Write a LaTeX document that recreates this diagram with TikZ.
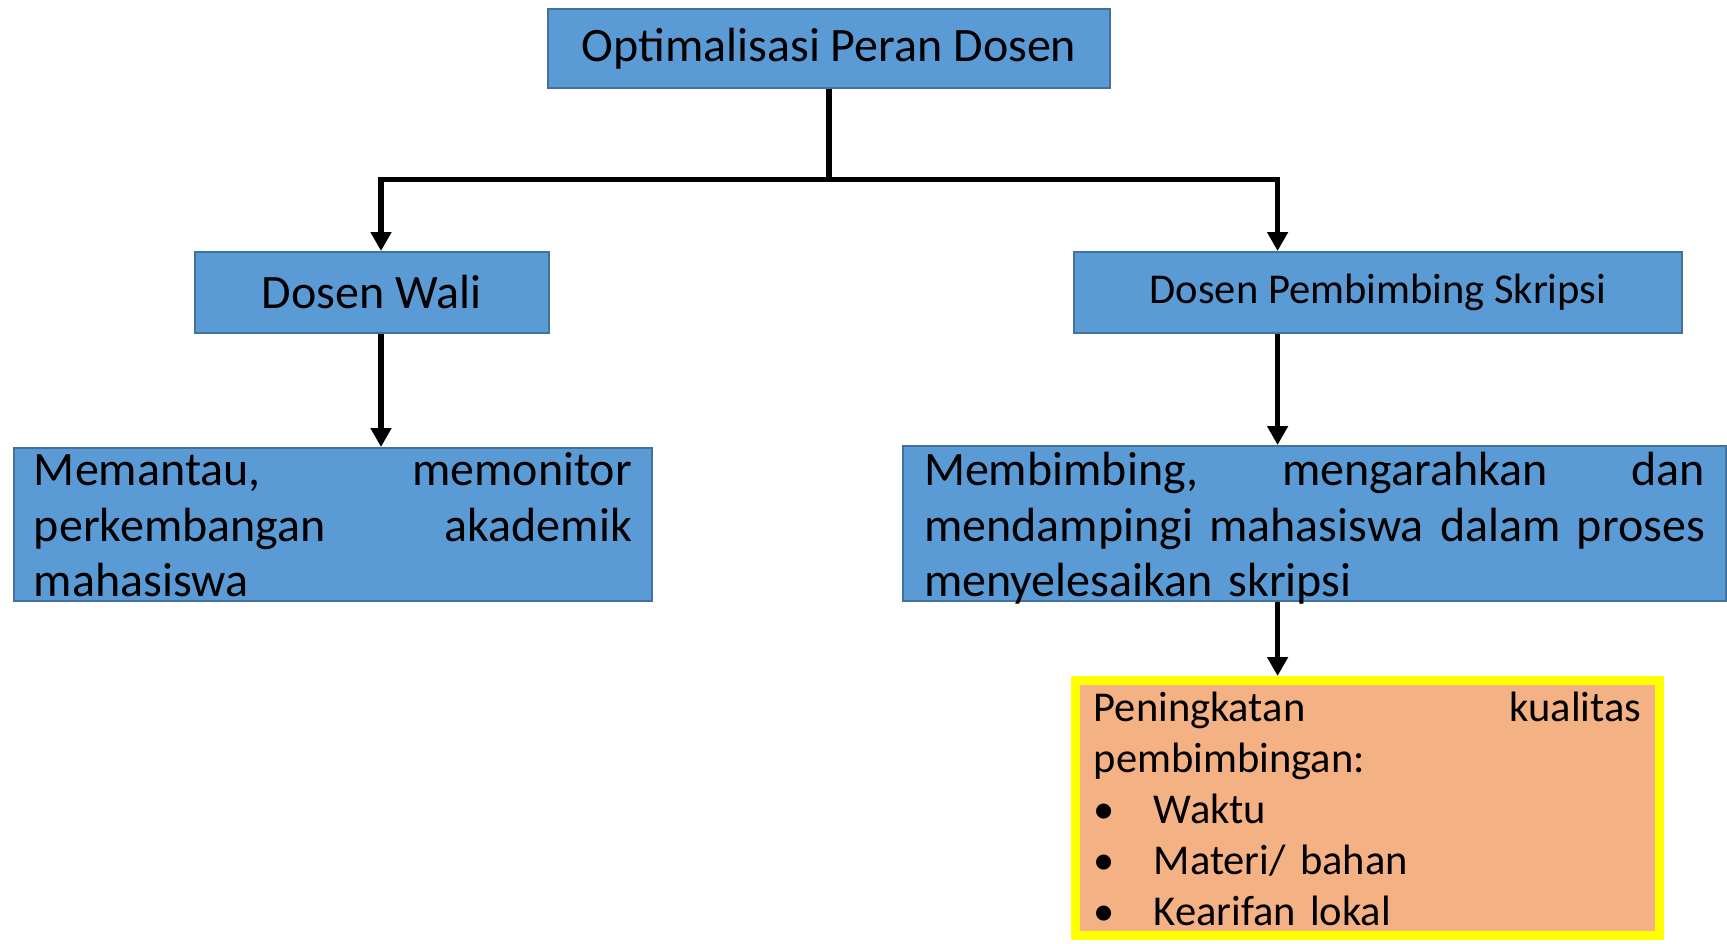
\documentclass[tikz,border=0pt]{standalone}
\usepackage{fontspec}
\setmainfont{Carlito}
\usetikzlibrary{arrows.meta}
\usetikzlibrary{positioning}
\definecolor{boxblue}{HTML}{5B9BD5}
\definecolor{boxline}{HTML}{41719C}
\definecolor{peach}{HTML}{F4B183}
\definecolor{brightyellow}{HTML}{FFFF00}

\begin{document}
\begin{tikzpicture}[x=1pt,y=-1pt,
    bluebox/.style={draw=boxline,fill=boxblue,line width=2pt,inner sep=0pt},
    bigtext/.style={font=\fontsize{48}{55.6}\selectfont},
    link/.style={line width=5.5pt,line join=miter},
    arrow/.style={link,-{Triangle[length=19pt,width=20pt]}}]
          \useasboundingbox (0,0) rectangle (1727,943);

          \node[bluebox,bigtext,minimum width=561.5pt,minimum height=79.2pt] (top) at (829,48.4) {Optimalisasi Peran Dosen};
          \node[bluebox,bigtext,minimum width=353.5pt,minimum height=80.6pt] (wali) at (371.75,292.3) {Dosen Wali};
          \node[bluebox,font=\fontsize{42.5}{50}\selectfont,minimum width=608pt,minimum height=80.6pt] (pemb) at (1378,292.3) {Dosen Pembimbing Skripsi};

          \node[bluebox,bigtext,anchor=north west,text width=598pt,align=left,inner xsep=20pt,
                text height=37.6pt,text depth=115.4pt] (pantau) at (13,447)
                {Memantau,\hfill memonitor\\ perkembangan\hfill akademik\\ mahasiswa};
          \node[bluebox,bigtext,anchor=north west,text width=781pt,align=left,inner xsep=21pt,
                text height=39.6pt,text depth=115.4pt] (bimbing) at (902,445)
                {Membimbing,\hfill mengarahkan\hfill dan\\
                 mendampingi\hfill mahasiswa\hfill dalam\hfill proses\\
                 menyelesaikan skripsi};

          \node[draw=brightyellow,fill=peach,line width=9pt,anchor=north west,text width=547.5pt,align=left,
                inner xsep=18.7pt,inner ysep=0pt,text height=41pt,text depth=213.5pt,
                font=\fontsize{42.5}{50.9}\selectfont] (mutu) at (1070.5,676)
                {Peningkatan\hfill kualitas\\ pembimbingan:\\
                 \makebox[60pt][l]{\textbullet}Waktu\\
                 \makebox[60pt][l]{\textbullet}Materi/ bahan\\
                 \makebox[60pt][l]{\textbullet}Kearifan lokal};

          \coordinate (fork) at (829,179.5);
          \coordinate (lfork) at (381,179.5);
          \coordinate (rfork) at (1277.6,179.5);

          \draw[arrow] (top.south) -- (fork) -| (lfork |- wali.north);
          \draw[arrow] (top.south) -- (fork) -| (rfork |- pemb.north);
          \draw[arrow] (lfork |- wali.south) -- (lfork |- pantau.north);
          \draw[arrow] (rfork |- pemb.south) -- (rfork |- bimbing.north);
          \draw[arrow] (rfork |- bimbing.south) -- (rfork |- mutu.north);
        \end{tikzpicture}
\end{document}
